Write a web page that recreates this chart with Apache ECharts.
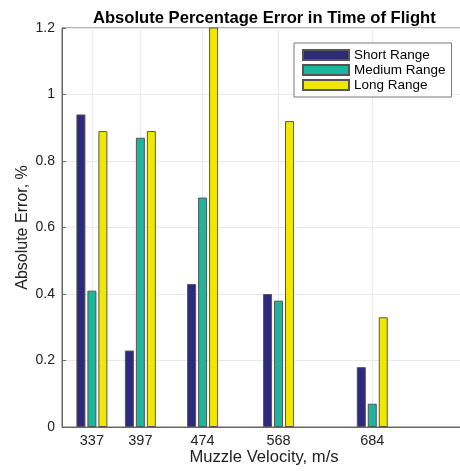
<!DOCTYPE html>
<html>
<head>
<meta charset="utf-8">
<script src="https://cdn.jsdelivr.net/npm/echarts@6/dist/echarts.min.js"></script>
<style>html,body{margin:0;padding:0;background:#fff;overflow:hidden;}#c{width:460px;height:471px;}</style>
</head>
<body>
<div id="c"></div>
<script>
const velocities = [337, 397, 474, 568, 684];
const shortRange = [0.94, 0.23, 0.43, 0.40, 0.18];
const mediumRange = [0.41, 0.87, 0.69, 0.38, 0.07];
const longRange = [0.89, 0.89, 1.30, 0.92, 0.33];
const yTicks = [0, 0.2, 0.4, 0.6, 0.8, 1, 1.2];

const FONT = 'Liberation Sans, Arial, Helvetica, sans-serif';
const chart = echarts.init(document.getElementById('c'), null, {renderer: 'canvas'});
function pairs(vals) { return velocities.map((v, i) => [v, vals[i]]); }
const edge = {borderColor: '#555', borderWidth: 1};
function bar(name, vals, color) {
  return {
    name: name, type: 'bar', data: pairs(vals), barWidth: 9, barGap: '22%',
    itemStyle: Object.assign({color: color}, edge), clip: true
  };
}
chart.setOption({
  animation: false,
  textStyle: {fontFamily: FONT},
  title: {
    text: 'Absolute Percentage Error in Time of Flight',
    left: 88, top: 5,
    textStyle: {fontFamily: FONT, fontSize: 16.6, fontWeight: 'bold', color: '#000'}
  },
  legend: {
    orient: 'vertical', left: 294, top: 43,
    itemWidth: 46, itemHeight: 10, itemGap: 1,
    padding: [5, 6, 5, 8],
    backgroundColor: '#fff', borderColor: '#777', borderWidth: 1,
    textStyle: {fontFamily: FONT, fontSize: 13.5, color: '#000'},
    icon: 'rect'
  },
  grid: {left: 62, top: 28, width: 404, height: 399, outerBoundsMode: 'none', containLabel: false,
    show: true, borderColor: '#666', borderWidth: 1, backgroundColor: 'transparent'},
  xAxis: {
    type: 'value', min: 300, max: 800,
    name: 'Muzzle Velocity, m/s', nameLocation: 'middle', nameGap: 22, nameMoveOverlap: false,
    nameTextStyle: {fontFamily: FONT, fontSize: 16.6, color: '#222'},
    axisLine: {show: true, lineStyle: {color: '#666'}},
    axisTick: {show: true, inside: true, length: 4, customValues: velocities, lineStyle: {color: '#666'}},
    axisLabel: {customValues: velocities, fontFamily: FONT, fontSize: 14.5, color: '#222', margin: 6},
    splitLine: {show: true, lineStyle: {color: '#e8e8e8', width: 1}}
  },
  yAxis: {
    type: 'value', min: 0, max: 1.2, interval: 0.2,
    name: 'Absolute Error, %', nameLocation: 'middle', nameGap: 31, nameRotate: 90, nameMoveOverlap: false,
    nameTextStyle: {fontFamily: FONT, fontSize: 16, color: '#222'},
    axisLine: {show: true, lineStyle: {color: '#666'}},
    axisTick: {show: true, inside: true, length: 4, lineStyle: {color: '#666'}},
    axisLabel: {fontFamily: FONT, fontSize: 14, color: '#222', margin: 7,
      formatter: v => String(Math.round(v * 10) / 10)},
    splitLine: {show: true, lineStyle: {color: '#e8e8e8', width: 1}}
  },
  series: [
    bar('Short Range', shortRange, '#2d2a7c'),
    bar('Medium Range', mediumRange, '#1bb69c'),
    bar('Long Range', longRange, '#f0e800')
  ]
});
</script>
</body>
</html>
